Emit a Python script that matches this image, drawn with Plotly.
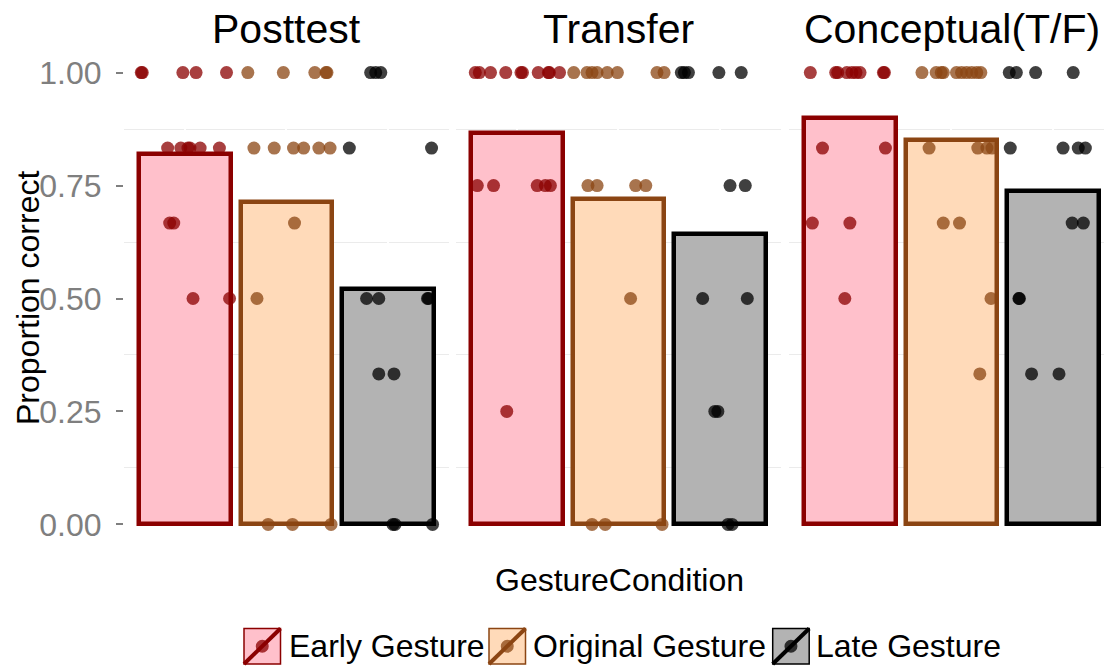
import plotly.graph_objects as go

# ---------------- data ----------------
groups = ["Early Gesture", "Original Gesture", "Late Gesture"]
panels = ["Posttest", "Transfer", "Conceptual(T/F)"]
categories_x = [1, 2, 3]
y_tickvals = [0, 0.25, 0.5, 0.75, 1.0]
y_ticktext = ["0.00", "0.25", "0.50", "0.75", "1.00"]

# bar heights (mean proportion correct) per panel, order = groups
posttest_means = [0.820, 0.714, 0.522]
transfer_means = [0.867, 0.720, 0.642]
conceptual_means = [0.899, 0.851, 0.737]

# jittered individual scores (x = jittered category position, y = score)
posttest_early_x = [0.57, 0.58, 0.98, 1.11, 1.41, 0.83, 0.96, 1.03, 1.05, 1.15, 1.34, 0.85, 0.89, 1.08, 1.44]
posttest_early_y = [1, 1, 1, 1, 1, 0.833, 0.833, 0.833, 0.833, 0.833, 0.833, 0.667, 0.667, 0.5, 0.5]
posttest_orig_x = [1.62, 1.97, 2.28, 2.39, 2.40, 1.68, 1.88, 2.07, 2.17, 2.32, 2.43, 2.08, 1.71, 1.82, 2.06, 2.44]
posttest_orig_y = [1, 1, 1, 1, 1, 0.833, 0.833, 0.833, 0.833, 0.833, 0.833, 0.667, 0.5, 0, 0, 0]
posttest_late_x = [2.83, 2.88, 2.93, 2.62, 3.43, 2.79, 2.91, 3.39, 3.40, 2.91, 3.06, 3.05, 3.07, 3.44]
posttest_late_y = [1, 1, 1, 0.833, 0.833, 0.5, 0.5, 0.5, 0.5, 0.333, 0.333, 0, 0, 0]

transfer_early_x = [0.59, 0.63, 0.74, 0.89, 1.04, 1.055, 1.21, 1.31, 1.32, 1.42, 0.61, 0.77, 1.20, 1.28, 1.33, 0.90]
transfer_early_y = [1, 1, 1, 1, 1, 1, 1, 1, 1, 1, 0.75, 0.75, 0.75, 0.75, 0.75, 0.25]
transfer_orig_x = [1.56, 1.69, 1.74, 1.79, 1.89, 1.99, 2.38, 2.45, 1.70, 1.79, 2.17, 2.27, 2.12, 1.74, 1.87, 2.43]
transfer_orig_y = [1, 1, 1, 1, 1, 1, 1, 1, 0.75, 0.75, 0.75, 0.75, 0.5, 0, 0, 0]
transfer_late_x = [2.62, 2.65, 2.69, 2.99, 3.21, 3.10, 3.25, 2.83, 3.27, 2.95, 2.98, 3.08, 3.12]
transfer_late_y = [1, 1, 1, 1, 1, 0.75, 0.75, 0.5, 0.5, 0.25, 0.25, 0, 0]

conceptual_early_x = [0.61, 0.86, 0.88, 0.97, 1.02, 1.06, 1.10, 1.33, 1.34, 0.73, 1.35, 0.63, 1.00, 0.95]
conceptual_early_y = [1, 1, 1, 1, 1, 1, 1, 1, 1, 0.833, 0.833, 0.667, 0.667, 0.5]
conceptual_orig_x = [1.71, 1.85, 1.90, 1.92, 2.05, 2.10, 2.15, 2.20, 2.25, 2.29, 1.78, 2.26, 2.35, 2.40, 1.92, 2.08, 2.39, 2.28]
conceptual_orig_y = [1, 1, 1, 1, 1, 1, 1, 1, 1, 1, 0.833, 0.833, 0.833, 0.833, 0.667, 0.667, 0.5, 0.333]
conceptual_late_x = [2.57, 2.64, 2.83, 3.20, 2.58, 3.10, 3.25, 3.32, 3.19, 3.30, 2.665, 2.67, 2.79, 3.06]
conceptual_late_y = [1, 1, 1, 1, 0.833, 0.833, 0.833, 0.833, 0.667, 0.667, 0.5, 0.5, 0.333, 0.333]

# ---------------- styles ----------------
FONT = "Liberation Sans, Arial, sans-serif"
fills = ["#FFC0CB", "#FFDAB9", "#B3B3B3"]
borders = ["#8B0000", "#8B4513", "#000000"]
pt_colors = ["rgba(139,0,0,0.75)", "rgba(139,69,19,0.75)", "rgba(0,0,0,0.75)"]

L, T, W, H = 124, 50, 980, 497
UNIT = 101.5


def fx(px):
    return (px - L) / W


def fy(py):
    return (T + H - py) / H


means = [posttest_means, transfer_means, conceptual_means]
pts = [
    [(posttest_early_x, posttest_early_y), (posttest_orig_x, posttest_orig_y), (posttest_late_x, posttest_late_y)],
    [(transfer_early_x, transfer_early_y), (transfer_orig_x, transfer_orig_y), (transfer_late_x, transfer_late_y)],
    [(conceptual_early_x, conceptual_early_y), (conceptual_orig_x, conceptual_orig_y), (conceptual_late_x, conceptual_late_y)],
]

fig = go.Figure()
axnames = [("x", "y"), ("x2", "y2"), ("x3", "y3")]
for p in range(3):
    xa, ya = axnames[p]
    fig.add_trace(go.Bar(
        x=categories_x, y=means[p], width=0.9,
        marker=dict(color=fills, line=dict(color=borders, width=4.5)),
        xaxis=xa, yaxis=ya, showlegend=False, hoverinfo="skip",
    ))
    for g in range(3):
        xs, ys = pts[p][g]
        fig.add_trace(go.Scatter(
            x=xs, y=ys, mode="markers",
            marker=dict(size=13, color=pt_colors[g], line=dict(width=0)),
            xaxis=xa, yaxis=ya, showlegend=False, name=groups[g],
        ))

panel_px = [(124, 449), (456, 781), (789, 1104)]
for i, (a, b) in enumerate(panel_px):
    key = "xaxis" if i == 0 else f"xaxis{i+1}"
    rng_hi = 0.4 + (b - a) / UNIT
    fig.layout[key] = dict(
        domain=[fx(a), fx(b)], range=[0.4, rng_hi],
        showticklabels=False, ticks="", tickvals=categories_x,
        showgrid=True, gridcolor="white", gridwidth=2,
        zeroline=False, showline=False, anchor=f"y{'' if i == 0 else i+1}",
    )
    ykey = "yaxis" if i == 0 else f"yaxis{i+1}"
    ydict = dict(
        range=[-0.05, 1.05], tickvals=y_tickvals, ticktext=y_ticktext,
        showgrid=True, gridcolor="white", zeroline=False, showline=False,
        minor=dict(tickvals=[0.125, 0.375, 0.625, 0.875], showgrid=True,
                   gridcolor="#EBEBEB", gridwidth=1, ticks=""),
        anchor=f"x{'' if i == 0 else i+1}",
    )
    if i == 0:
        ydict.update(ticks="outside", ticklen=7, tickwidth=1.5, tickcolor="#7F7F7F",
                     tickfont=dict(family=FONT, size=32, color="#7F7F7F"),
                     ticklabelstandoff=8)
    else:
        ydict.update(showticklabels=False, ticks="", matches="y")
    fig.layout[ykey] = ydict

annotations = []
for i, (a, b) in enumerate(panel_px):
    cx = (a + (a + 325)) / 2
    annotations.append(dict(text=panels[i], x=fx(cx), y=fy(29), xref="paper", yref="paper",
                            xanchor="center", yanchor="middle", showarrow=False,
                            font=dict(family=FONT, size=41, color="black")))
annotations.append(dict(text="Proportion correct", x=fx(28), y=fy(298), xref="paper", yref="paper",
                        xanchor="center", yanchor="middle", textangle=-90, showarrow=False,
                        font=dict(family=FONT, size=32, color="black")))
annotations.append(dict(text="GestureCondition", x=fx(619), y=fy(580), xref="paper", yref="paper",
                        xanchor="center", yanchor="middle", showarrow=False,
                        font=dict(family=FONT, size=32, color="black")))

# legend (manual keys)
shapes = []
box_left = [244, 489, 772.7]
text_left = [286.5, 530.5, 813.5]
ky0, ky1 = 628.5, 664
for g in range(3):
    x0, x1 = box_left[g], box_left[g] + 36.5
    shapes.append(dict(type="rect", xref="paper", yref="paper", x0=fx(x0), x1=fx(x1), y0=fy(ky1), y1=fy(ky0),
                       fillcolor=fills[g], line=dict(color=borders[g], width=1.5), layer="above"))
    cxp, cyp = (x0 + x1) / 2, (ky0 + ky1) / 2
    shapes.append(dict(type="circle", xref="paper", yref="paper", x0=fx(cxp - 6.5), x1=fx(cxp + 6.5),
                       y0=fy(cyp + 6.5), y1=fy(cyp - 6.5), fillcolor=pt_colors[g], line=dict(width=0), layer="above"))
    shapes.append(dict(type="line", xref="paper", yref="paper", x0=fx(x0), y0=fy(ky1), x1=fx(x1), y1=fy(ky0),
                       line=dict(color=borders[g], width=4), layer="above"))
    annotations.append(dict(text=groups[g], x=fx(text_left[g]), y=fy(646), xref="paper", yref="paper",
                            xanchor="left", yanchor="middle", showarrow=False,
                            font=dict(family=FONT, size=32, color="black")))

fig.update_layout(
    width=1104, height=666,
    margin=dict(l=L, r=0, t=T, b=666 - T - H, pad=0),
    paper_bgcolor="white", plot_bgcolor="white",
    annotations=annotations, shapes=shapes, showlegend=False,
    bargap=0,
)

fig.write_html("out.html", config={"displayModeBar": False},
               post_script="document.body.style.margin='0';document.body.style.overflow='hidden';")
